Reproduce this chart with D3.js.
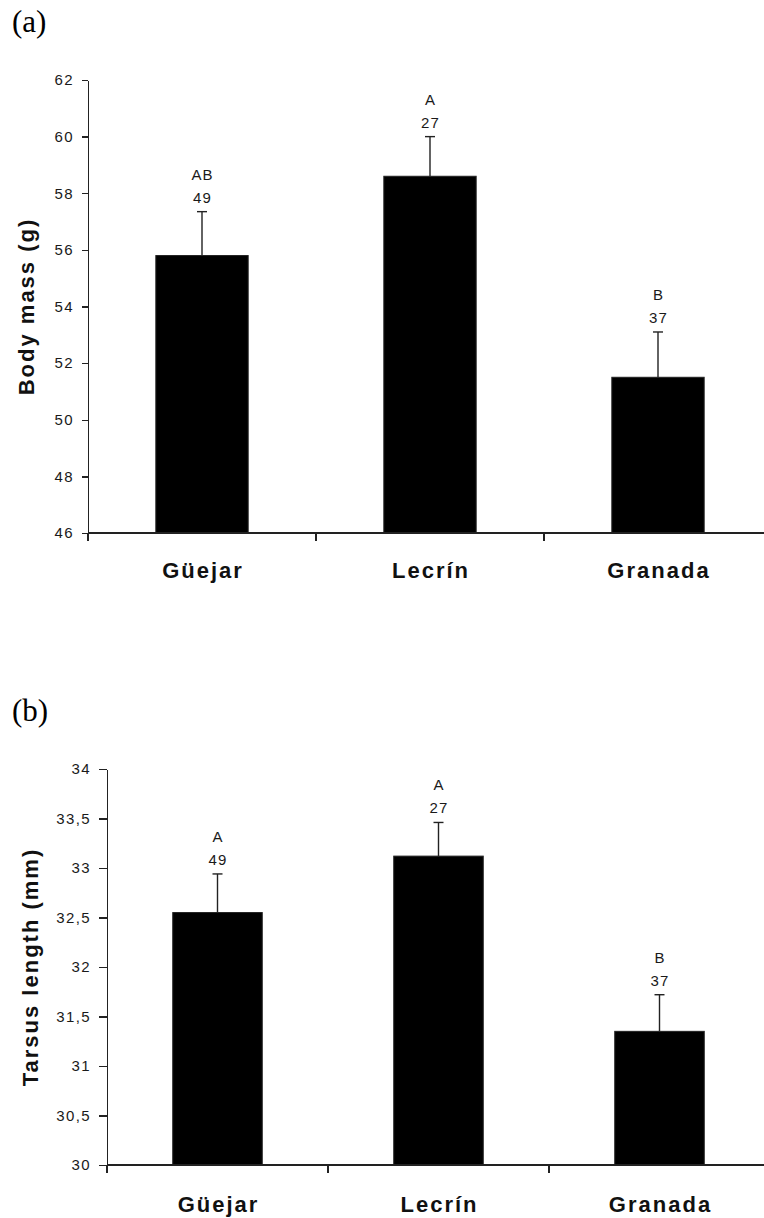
<!DOCTYPE html>
<html>
<head>
<meta charset="utf-8">
<script src="https://cdn.jsdelivr.net/npm/d3@7"></script>
<style>
  html, body { margin: 0; padding: 0; background: #fff; }
  svg { display: block; }
  .tick text { font-family: "Liberation Sans", Arial, sans-serif; font-size: 15px; fill: #1a1a1a; letter-spacing: 1.4px; }
  .axis path, .axis line { stroke: #222; stroke-width: 1.4px; shape-rendering: crispEdges; }
  .cat { font-family: "Liberation Sans", Arial, sans-serif; font-size: 22px; font-weight: bold; fill: #111; letter-spacing: 2px; }
  .ytitle { font-family: "Liberation Sans", Arial, sans-serif; font-size: 22px; font-weight: bold; fill: #111; letter-spacing: 2px; }
  .note { font-family: "Liberation Sans", Arial, sans-serif; font-size: 15px; fill: #1a1a1a; letter-spacing: 1.2px; }
  .panel { font-family: "Liberation Serif", "Times New Roman", serif; font-size: 31px; fill: #000; }
</style>
</head>
<body>
<svg id="fig" width="764" height="1218"></svg>
<script>
// Sites sampled
const sites = ["Güejar", "Lecrín", "Granada"];

// (a) body mass, g: mean and standard error
const massMean = [55.8, 58.6, 51.5];
const massSE   = [1.55, 1.4, 1.6];
const massTicks = [46, 48, 50, 52, 54, 56, 58, 60, 62];

// (b) tarsus length, mm: mean and standard error
const tarsusMean = [32.55, 33.12, 31.35];
const tarsusSE   = [0.39, 0.34, 0.37];
const tarsusTicks = [30, 30.5, 31, 31.5, 32, 32.5, 33, 33.5, 34];

// Sample sizes and homogeneous-group letters shown over each bar
const sampleN = ["49", "27", "37"];
const massGroups = ["AB", "A", "B"];
const tarsusGroups = ["A", "A", "B"];

// Spanish-style decimal comma for the tick labels
const esLocale = d3.formatLocale({ decimal: ",", thousands: ".", grouping: [3], currency: ["", " €"] });
const fmtTick = v => Number.isInteger(v) ? String(v) : esLocale.format(".1f")(v);

const svg = d3.select("#fig");

function drawPanel(opt) {
  const g = svg.append("g");

  const x = d3.scaleBand().domain(sites).range([opt.left, opt.right]).paddingInner(0).paddingOuter(0);
  const y = d3.scaleLinear().domain(opt.domain).range([opt.bottom, opt.top]);
  const barW = x.bandwidth() * 0.405;

  // y axis
  g.append("g")
    .attr("class", "axis")
    .attr("transform", `translate(${opt.left},0)`)
    .call(d3.axisLeft(y).tickValues(opt.ticks).tickFormat(fmtTick).tickSize(opt.tickLen).tickSizeOuter(0).tickPadding(opt.tickPad));

  // bars
  g.selectAll("rect.bar")
    .data(sites)
    .join("rect")
    .attr("class", "bar")
    .attr("x", d => x(d) + (x.bandwidth() - barW) / 2)
    .attr("y", (d, i) => y(opt.mean[i]))
    .attr("width", barW)
    .attr("height", (d, i) => y(opt.domain[0]) - y(opt.mean[i]))
    .attr("fill", "#000")
    .attr("stroke", "#222")
    .attr("stroke-width", 1);

  // upper error bars (mean + SE)
  const cx = d => x(d) + x.bandwidth() / 2;
  g.selectAll("line.err")
    .data(sites)
    .join("line")
    .attr("class", "err")
    .attr("x1", cx).attr("x2", cx)
    .attr("y1", (d, i) => y(opt.mean[i]))
    .attr("y2", (d, i) => y(opt.mean[i] + opt.se[i]))
    .attr("stroke", "#222").attr("stroke-width", 1.4);
  g.selectAll("line.cap")
    .data(sites)
    .join("line")
    .attr("class", "cap")
    .attr("x1", d => cx(d) - 5).attr("x2", d => cx(d) + 5)
    .attr("y1", (d, i) => y(opt.mean[i] + opt.se[i]))
    .attr("y2", (d, i) => y(opt.mean[i] + opt.se[i]))
    .attr("stroke", "#222").attr("stroke-width", 1.4);

  // sample size and group letter above each error bar
  g.selectAll("text.n")
    .data(sites)
    .join("text")
    .attr("class", "note")
    .attr("text-anchor", "middle")
    .attr("x", d => cx(d) + 0.6)
    .attr("y", (d, i) => y(opt.mean[i] + opt.se[i]) - 9)
    .text((d, i) => sampleN[i]);
  g.selectAll("text.grp")
    .data(sites)
    .join("text")
    .attr("class", "note")
    .attr("text-anchor", "middle")
    .attr("x", d => cx(d) + 0.6)
    .attr("y", (d, i) => y(opt.mean[i] + opt.se[i]) - 32)
    .text((d, i) => opt.groups[i]);

  // x axis with ticks between categories
  const xa = g.append("g").attr("class", "axis");
  xa.append("line")
    .attr("x1", opt.left).attr("x2", opt.right)
    .attr("y1", opt.bottom).attr("y2", opt.bottom);
  const bounds = sites.map(d => x(d)).concat([opt.right]);
  xa.selectAll("line.xt")
    .data(bounds)
    .join("line")
    .attr("class", "xt")
    .attr("x1", d => d).attr("x2", d => d)
    .attr("y1", opt.bottom).attr("y2", opt.bottom + 8);

  // category names
  g.selectAll("text.cat")
    .data(sites)
    .join("text")
    .attr("class", "cat")
    .attr("text-anchor", "middle")
    .attr("x", d => cx(d) + 1)
    .attr("y", opt.bottom + opt.catGap)
    .text(d => d);

  // y axis title
  g.append("text")
    .attr("class", "ytitle")
    .attr("text-anchor", "middle")
    .attr("transform", `translate(${opt.titleX},${(opt.top + opt.bottom) / 2}) rotate(-90)`)
    .text(opt.title);

  // panel letter
  g.append("text")
    .attr("class", "panel")
    .attr("x", 12)
    .attr("y", opt.panelY)
    .text(opt.panel);
}

drawPanel({
  left: 88, right: 772, top: 80, bottom: 533,
  domain: [46, 62], ticks: massTicks,
  mean: massMean, se: massSE, groups: massGroups,
  tickLen: 6, tickPad: 8, catGap: 45,
  title: "Body mass (g)", titleX: 34,
  panel: "(a)", panelY: 32
});

drawPanel({
  left: 107, right: 770, top: 769, bottom: 1165,
  domain: [30, 34], ticks: tarsusTicks,
  mean: tarsusMean, se: tarsusSE, groups: tarsusGroups,
  tickLen: 8, tickPad: 8, catGap: 47,
  title: "Tarsus length (mm)", titleX: 38,
  panel: "(b)", panelY: 721
});
</script>
</body>
</html>
